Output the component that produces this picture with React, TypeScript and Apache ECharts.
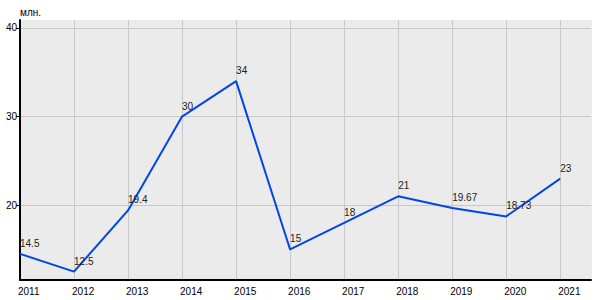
import React, { useEffect, useRef } from "react";
import * as echarts from "echarts";

const years = [2011, 2012, 2013, 2014, 2015, 2016, 2017, 2018, 2019, 2020, 2021];
const values = [14.5, 12.5, 19.4, 30, 34, 15, 18, 21, 19.67, 18.73, 23];
const unitLabel = "млн.";

export default function App() {
  const ref = useRef<HTMLDivElement>(null);
  useEffect(() => {
    if (!ref.current) return;
    const chart = echarts.init(ref.current, undefined, { renderer: "svg" });
    const font = "'Liberation Sans', Arial, sans-serif";
    const gridColor = "#c8c8c8";
    const bg = "#ebebeb";
    chart.setOption({
      animation: false,
      backgroundColor: "#ffffff",
      textStyle: { fontFamily: font },
      graphic: [
        {
          type: "text",
          left: 20,
          top: 7,
          style: { text: unitLabel, fill: "#000", font: `10px ${font}` },
        },
      ],
      grid: {
        left: 20,
        right: 9,
        top: 20,
        bottom: 20,
        show: true,
        backgroundColor: bg,
        borderWidth: 0,
      },
      xAxis: {
        type: "value",
        min: 2011,
        max: 2021.57,
        interval: 1,
        axisLine: { show: true, lineStyle: { color: "#000", width: 2 } },
        axisTick: { show: false },
        axisLabel: {
          color: "#000",
          fontSize: 10,
          fontFamily: font,
          align: "left",
          margin: 6,
          padding: [0, 0, 0, -2],
          showMaxLabel: false,
          formatter: (v: number) => (Number.isInteger(v) ? String(v) : ""),
        },
        splitLine: {
          show: true,
          lineStyle: {
            color: [
              gridColor, gridColor, gridColor, gridColor, gridColor, gridColor,
              gridColor, gridColor, gridColor, gridColor, gridColor, bg,
            ],
            width: 1,
          },
        },
      },
      yAxis: {
        type: "value",
        min: 11.55,
        max: 40.9,
        splitNumber: 3,
        axisLine: { show: true, lineStyle: { color: "#000", width: 2 } },
        axisTick: { show: true, length: 4, lineStyle: { color: "#000" } },
        axisLabel: {
          color: "#000",
          fontSize: 10,
          fontFamily: font,
          margin: 3,
          showMinLabel: false,
          showMaxLabel: false,
          formatter: (v: number) => (v % 10 === 0 ? String(v) : ""),
        },
        splitLine: {
          show: true,
          lineStyle: { color: [bg, gridColor, gridColor, gridColor, bg], width: 1 },
        },
      },
      series: [
        {
          type: "line",
          data: years.map((y, i) => [y, values[i]]),
          symbol: "circle",
          symbolSize: 1,
          itemStyle: { color: "rgba(0,0,0,0)" },
          lineStyle: { color: "#0046e6", width: 2 },
          label: {
            show: true,
            position: "top",
            align: "left",
            distance: 5,
            color: "#222",
            fontSize: 10,
            fontFamily: font,
            formatter: (p: any) => String(p.value[1]),
          },
        },
      ],
    });
    return () => chart.dispose();
  }, []);
  return <div ref={ref} style={{ width: 600, height: 300, position: "absolute", left: 0, top: 0 }} />;
}
